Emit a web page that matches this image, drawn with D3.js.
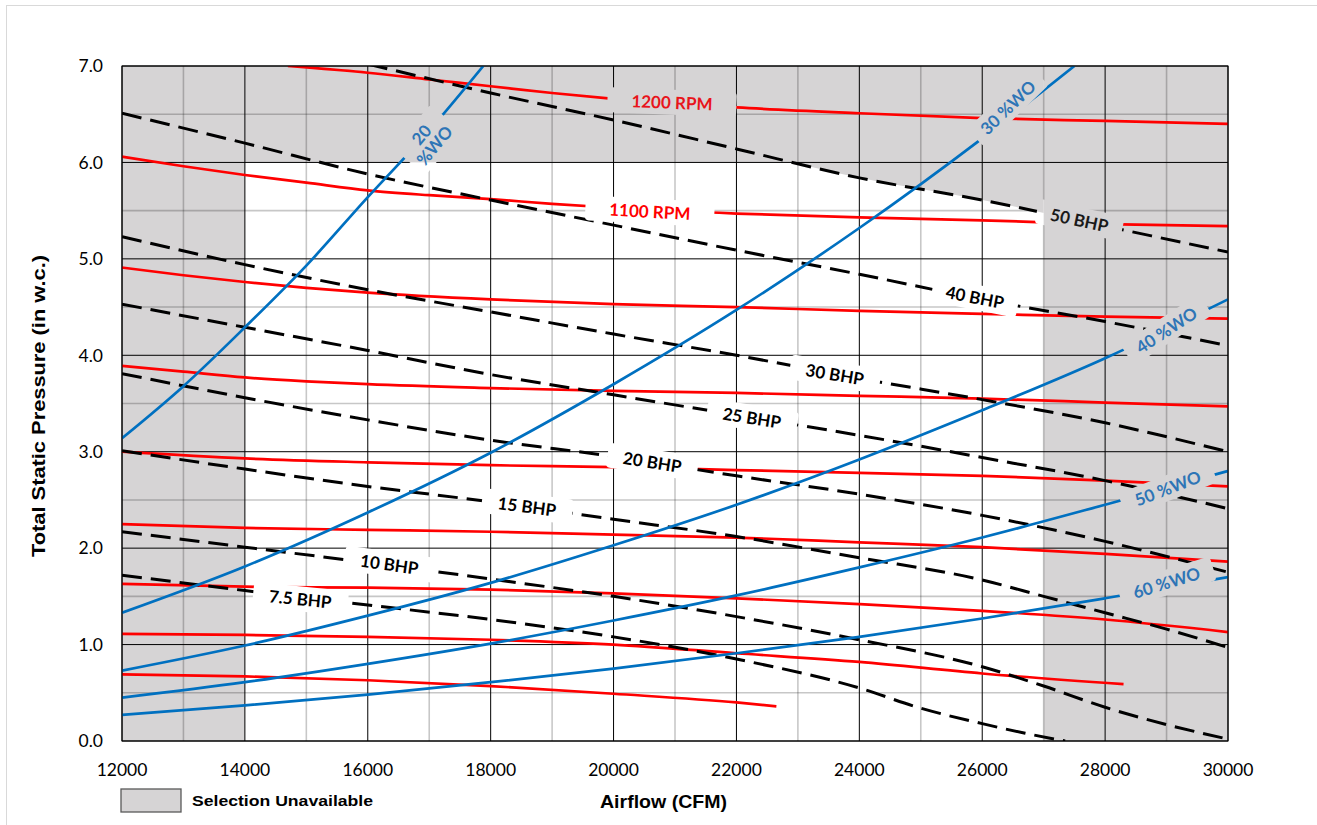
<!DOCTYPE html>
<html>
<head>
<meta charset="utf-8">
<script src="https://cdn.jsdelivr.net/npm/d3@7"></script>
<style>
  body { margin: 0; background: #fff; }
  .tick-label { font-family: Lato, "Open Sans", sans-serif; font-size: 17.5px; fill: #000; }
  .axis-title { font-family: "Liberation Sans", Arial, sans-serif; font-weight: bold; font-size: 18.5px; fill: #000; }
  .curve-label { font-family: Lato, "Open Sans", sans-serif; font-weight: bold; font-size: 17px; }
</style>
</head>
<body>
<script>
const width = 1317
const height = 825
const margin = {top: 66, right: 89, bottom: 84, left: 122}

/* Axis ticks */
const xMajorTicks = [12000, 14000, 16000, 18000, 20000, 22000, 24000, 26000, 28000, 30000]
const xMinorTicks = [13000, 15000, 17000, 19000, 21000, 23000, 25000, 27000, 29000]
const yMajorTicks = [0, 1, 2, 3, 4, 5, 6, 7]
const yMinorTicks = [0.5, 1.5, 2.5, 3.5, 4.5, 5.5, 6.5]

/* Selection unavailable limits */
const unavailableLowCfm = 14000
const unavailableHighCfm = 27000
const unavailablePressure = 6.0

/* Fan speed curves [CFM, in w.c.] */
const rpm1200 = [[14700, 7.0], [16000, 6.93], [17000, 6.86], [18000, 6.79], [19000, 6.72], [20000, 6.66], [22000, 6.57], [24000, 6.51], [26000, 6.46], [28000, 6.43], [30000, 6.40]]
const rpm1100 = [[12000, 6.06], [13000, 5.96], [14000, 5.87], [15000, 5.79], [16000, 5.71], [17000, 5.66], [18000, 5.62], [19000, 5.57], [20000, 5.53], [22000, 5.47], [24000, 5.43], [26000, 5.40], [28000, 5.36], [30000, 5.34]]
const rpm1000 = [[12000, 4.91], [13000, 4.83], [14000, 4.76], [15000, 4.70], [16000, 4.65], [18000, 4.58], [20000, 4.53], [22000, 4.50], [24000, 4.46], [26000, 4.43], [28000, 4.40], [30000, 4.38]]
const rpm900 = [[12000, 3.89], [13000, 3.83], [14000, 3.77], [15000, 3.73], [16000, 3.70], [18000, 3.66], [20000, 3.63], [22000, 3.61], [24000, 3.58], [26000, 3.55], [28000, 3.51], [30000, 3.47]]
const rpm800 = [[12000, 3.00], [14000, 2.93], [16000, 2.89], [18000, 2.86], [20000, 2.84], [22000, 2.81], [24000, 2.78], [26000, 2.75], [28000, 2.70], [30000, 2.64]]
const rpm700 = [[12000, 2.25], [14000, 2.21], [16000, 2.19], [18000, 2.17], [20000, 2.14], [22000, 2.11], [24000, 2.06], [26000, 2.01], [28000, 1.94], [30000, 1.86]]
const rpm600 = [[12000, 1.63], [14000, 1.60], [16000, 1.59], [18000, 1.57], [20000, 1.53], [22000, 1.48], [24000, 1.42], [26000, 1.35], [28000, 1.26], [30000, 1.13]]
const rpm500 = [[12000, 1.11], [14000, 1.10], [16000, 1.08], [18000, 1.05], [20000, 1.00], [22000, 0.91], [24000, 0.82], [26000, 0.70], [28300, 0.59]]
const rpm400 = [[12000, 0.69], [14000, 0.67], [16000, 0.63], [18000, 0.57], [20000, 0.49], [22000, 0.40], [22650, 0.36]]
const rpmCurves = [rpm1200, rpm1100, rpm1000, rpm900, rpm800, rpm700, rpm600, rpm500, rpm400]

/* Brake horsepower curves */
const bhp50 = [[16000, 7.02], [18000, 6.72], [20000, 6.44], [22000, 6.14], [24000, 5.84], [26000, 5.61], [28000, 5.34], [30000, 5.07]]
const bhp40 = [[12000, 6.51], [14000, 6.20], [16000, 5.88], [18000, 5.61], [20000, 5.35], [22000, 5.09], [24000, 4.84], [26000, 4.58], [28000, 4.35], [30000, 4.10]]
const bhp30 = [[12000, 5.23], [14000, 4.94], [16000, 4.68], [18000, 4.45], [20000, 4.22], [22000, 4.00], [24000, 3.76], [26000, 3.54], [28000, 3.30], [30000, 3.00]]
const bhp25 = [[12000, 4.53], [14000, 4.29], [16000, 4.05], [18000, 3.80], [20000, 3.59], [22000, 3.38], [24000, 3.17], [26000, 2.94], [28000, 2.70], [30000, 2.41]]
const bhp20 = [[12000, 3.81], [14000, 3.56], [16000, 3.33], [18000, 3.12], [20000, 2.95], [22000, 2.75], [24000, 2.56], [26000, 2.34], [28000, 2.07], [30000, 1.75]]
const bhp15 = [[12000, 3.01], [14000, 2.82], [16000, 2.64], [18000, 2.48], [20000, 2.30], [22000, 2.12], [24000, 1.90], [26000, 1.67], [27000, 1.50], [28000, 1.33], [29000, 1.16], [30000, 0.97]]
const bhp10 = [[12000, 2.17], [14000, 2.01], [16000, 1.85], [18000, 1.68], [20000, 1.50], [22000, 1.29], [24000, 1.05], [26000, 0.77], [27000, 0.57], [28000, 0.35], [29000, 0.17], [30000, 0.02]]
const bhp7_5 = [[12000, 1.72], [14000, 1.56], [16000, 1.41], [18000, 1.26], [20000, 1.08], [22000, 0.85], [24000, 0.55], [25000, 0.34], [26000, 0.18], [26700, 0.08], [27350, 0.0]]
const bhpCurves = [bhp50, bhp40, bhp30, bhp25, bhp20, bhp15, bhp10, bhp7_5]

/* System curves, % wide open */
const wo20 = [[12000, 3.14], [13000, 3.68], [14000, 4.29], [15000, 4.93], [16000, 5.64], [17000, 6.33], [17880, 7.0]]
const wo30 = [[12000, 1.33], [14000, 1.81], [16000, 2.37], [18000, 2.99], [20000, 3.70], [22000, 4.47], [24000, 5.32], [26000, 6.25], [27500, 7.0]]
const wo40 = [[12000, 0.73], [14000, 0.99], [16000, 1.30], [18000, 1.64], [20000, 2.03], [22000, 2.45], [24000, 2.92], [26000, 3.43], [28000, 3.97], [30000, 4.58]]
const wo50 = [[12000, 0.45], [14000, 0.61], [16000, 0.80], [18000, 1.01], [20000, 1.25], [22000, 1.51], [24000, 1.80], [26000, 2.11], [28000, 2.45], [30000, 2.80]]
const wo60 = [[12000, 0.27], [14000, 0.37], [16000, 0.48], [18000, 0.61], [20000, 0.75], [22000, 0.91], [24000, 1.08], [26000, 1.27], [28000, 1.48], [30000, 1.70]]
const woCurves = [wo20, wo30, wo40, wo50, wo60]

/* Curve labels: text, position on the chart in data units, rotation */
const curveLabels = [
  {text: "1200 RPM", cfm: 20950, p: 6.62, angle: 2.3, color: "#e8141b", padX: 24},
  {text: "1100 RPM", cfm: 20590, p: 5.49, angle: 3, color: "#ff0000", padX: 24},
  {text: "50 BHP", cfm: 27580, p: 5.40, angle: 12, color: "#1a1a1a", padX: 14},
  {text: "40 BHP", cfm: 25880, p: 4.60, angle: 11, color: "#000", padX: 14},
  {text: "30 BHP", cfm: 23600, p: 3.80, angle: 9.5, color: "#000", padX: 16},
  {text: "25 BHP", cfm: 22250, p: 3.35, angle: 9, color: "#000", padX: 16},
  {text: "20 BHP", cfm: 20630, p: 2.89, angle: 9, color: "#000", padX: 16},
  {text: "15 BHP", cfm: 18590, p: 2.43, angle: 7.5, color: "#000", padX: 16},
  {text: "10 BHP", cfm: 16350, p: 1.83, angle: 8, color: "#000", padX: 16},
  {text: "7.5 BHP", cfm: 14900, p: 1.47, angle: 5.7, color: "#000", padX: 16},
  {text: "20\n%WO", cfm: 16980, p: 6.23, angle: -50, color: "#2e75b6", padX: 6},
  {text: "30 %WO", cfm: 26420, p: 6.57, angle: -44, color: "#2e75b6", padX: 10},
  {text: "40 %WO", cfm: 29000, p: 4.26, angle: -33, color: "#2e75b6", padX: 12},
  {text: "50 %WO", cfm: 29020, p: 2.62, angle: -21, color: "#2e75b6", padX: 14},
  {text: "60 %WO", cfm: 29000, p: 1.64, angle: -17, color: "#2e75b6", padX: 14}
]

const svg = d3.select("body")
  .append("svg")
  .attr("width", width)
  .attr("height", height)

/* Light chart frame */
svg.append("rect")
  .attr("x", 6.5).attr("y", 5.5)
  .attr("width", width + 10).attr("height", height + 10)
  .attr("fill", "#fff")
  .attr("stroke", "#d9d9d9")

const x = d3.scaleLinear()
  .domain([12000, 30000])
  .range([margin.left, width - margin.right])

const y = d3.scaleLinear()
  .domain([0, 7])
  .range([height - margin.bottom, margin.top])

const curve = d3.curveMonotoneX
const line = d3.line()
  .x(d => x(d[0]))
  .y(d => y(d[1]))
  .curve(curve)

const defs = svg.append("defs")
defs.append("clipPath").attr("id", "plotClip")
  .append("rect")
  .attr("x", x(12000)).attr("y", y(7))
  .attr("width", x(30000) - x(12000)).attr("height", y(0) - y(7))

defs.append("clipPath").attr("id", "midClip")
  .append("rect")
  .attr("x", x(unavailableLowCfm)).attr("y", y(7))
  .attr("width", x(unavailableHighCfm) - x(unavailableLowCfm)).attr("height", y(0) - y(7))

const mask = defs.append("mask").attr("id", "labelMask")
  .attr("maskUnits", "userSpaceOnUse")
  .attr("x", 0).attr("y", 0).attr("width", width).attr("height", height)
mask.append("rect")
  .attr("width", width).attr("height", height)
  .attr("fill", "#fff")

/* Selection unavailable zones */
const grey = "#d6d4d5"
const zones = svg.append("g").attr("fill", grey)
zones.append("rect")
  .attr("x", x(12000)).attr("y", y(7))
  .attr("width", x(unavailableLowCfm) - x(12000)).attr("height", y(0) - y(7))
zones.append("rect")
  .attr("x", x(unavailableHighCfm)).attr("y", y(7))
  .attr("width", x(30000) - x(unavailableHighCfm)).attr("height", y(0) - y(7))
zones.append("rect")
  .attr("x", x(unavailableLowCfm)).attr("y", y(7))
  .attr("width", x(unavailableHighCfm) - x(unavailableLowCfm)).attr("height", y(unavailablePressure) - y(7))
zones.append("path")
  .attr("clip-path", "url(#midClip)")
  .attr("d", d3.area()
    .x(d => x(d[0]))
    .y0(d => y(d[1]))
    .y1(y(7))
    .curve(curve)(bhp50))

/* Everything that label boxes cut through */
const masked = svg.append("g").attr("mask", "url(#labelMask)")

/* Grid */
const grid = masked.append("g")
grid.selectAll(".xminor").data(xMinorTicks).enter()
  .append("line")
  .attr("x1", d => x(d)).attr("x2", d => x(d))
  .attr("y1", y(0)).attr("y2", y(7))
  .attr("stroke", "rgba(0,0,0,0.22)").attr("stroke-width", 1.6)
grid.selectAll(".yminor").data(yMinorTicks).enter()
  .append("line")
  .attr("x1", x(12000)).attr("x2", x(30000))
  .attr("y1", d => y(d)).attr("y2", d => y(d))
  .attr("stroke", "rgba(0,0,0,0.22)").attr("stroke-width", 1.6)
grid.selectAll(".xmajor").data(xMajorTicks).enter()
  .append("line")
  .attr("x1", d => x(d)).attr("x2", d => x(d))
  .attr("y1", y(0)).attr("y2", y(7))
  .attr("stroke", "#000").attr("stroke-width", 1)
grid.selectAll(".ymajor").data(yMajorTicks).enter()
  .append("line")
  .attr("x1", x(12000)).attr("x2", x(30000))
  .attr("y1", d => y(d)).attr("y2", d => y(d))
  .attr("stroke", "#000").attr("stroke-width", 1)

/* Curves */
const curves = masked.append("g").attr("clip-path", "url(#plotClip)").attr("fill", "none")
curves.selectAll(".rpm").data(rpmCurves).enter()
  .append("path")
  .attr("d", line)
  .attr("stroke", "#ff0000").attr("stroke-width", 2.7)
curves.selectAll(".bhp").data(bhpCurves).enter()
  .append("path")
  .attr("d", line)
  .attr("stroke", "#000").attr("stroke-width", 3)
  .attr("stroke-dasharray", "20,9")
curves.selectAll(".wo").data(woCurves).enter()
  .append("path")
  .attr("d", line)
  .attr("stroke", "#0070c0").attr("stroke-width", 2.7)

/* Plot border */
svg.append("rect")
  .attr("x", x(12000)).attr("y", y(7))
  .attr("width", x(30000) - x(12000)).attr("height", y(0) - y(7))
  .attr("fill", "none").attr("stroke", "#000").attr("stroke-width", 1)

/* Curve labels, each cutting a box out of the lines below */
const labelLayer = svg.append("g")
curveLabels.forEach(l => {
  const transform = `translate(${x(l.cfm)},${y(l.p)}) rotate(${l.angle})`
  const g = labelLayer.append("g").attr("transform", transform)
  const lines = l.text.split("\n")
  const t = g.append("text")
    .attr("class", "curve-label")
    .attr("text-anchor", "middle")
    .attr("fill", l.color)
  lines.forEach((s, i) => {
    t.append("tspan")
      .attr("x", 0)
      .attr("dy", i === 0 ? `${0.36 - (lines.length - 1) * 0.5}em` : "1.0em")
      .text(s)
  })
  const b = t.node().getBBox()
  mask.append("rect")
    .attr("transform", transform)
    .attr("x", b.x - l.padX).attr("y", b.y - 2)
    .attr("width", b.width + 2 * l.padX).attr("height", b.height + 4)
    .attr("rx", 4)
    .attr("fill", "#000")
})

/* Tick labels */
svg.append("g").selectAll("text").data(xMajorTicks).enter()
  .append("text")
  .attr("class", "tick-label")
  .attr("x", d => x(d)).attr("y", y(0) + 35)
  .attr("text-anchor", "middle")
  .text(d => d)
svg.append("g").selectAll("text").data(yMajorTicks).enter()
  .append("text")
  .attr("class", "tick-label")
  .attr("x", x(12000) - 19).attr("y", d => y(d))
  .attr("dy", "0.36em")
  .attr("text-anchor", "end")
  .text(d => d3.format(".1f")(d))

/* Axis titles */
svg.append("text")
  .attr("class", "axis-title")
  .attr("x", 600).attr("y", 808)
  .attr("textLength", 127).attr("lengthAdjust", "spacingAndGlyphs")
  .text("Airflow (CFM)")
svg.append("text")
  .attr("class", "axis-title")
  .attr("transform", "translate(45,557) rotate(-90)")
  .attr("textLength", 302).attr("lengthAdjust", "spacingAndGlyphs")
  .text("Total Static Pressure (in w.c.)")

/* Legend */
svg.append("rect")
  .attr("x", 121).attr("y", 789)
  .attr("width", 60).attr("height", 23)
  .attr("fill", grey).attr("stroke", "#595959").attr("stroke-width", 1.3)
svg.append("text")
  .attr("x", 192).attr("y", 806)
  .attr("textLength", 181).attr("lengthAdjust", "spacingAndGlyphs")
  .style("font-family", "'Liberation Sans', Arial, sans-serif")
  .style("font-weight", "bold")
  .style("font-size", "15px")
  .text("Selection Unavailable")
</script>
</body>
</html>
